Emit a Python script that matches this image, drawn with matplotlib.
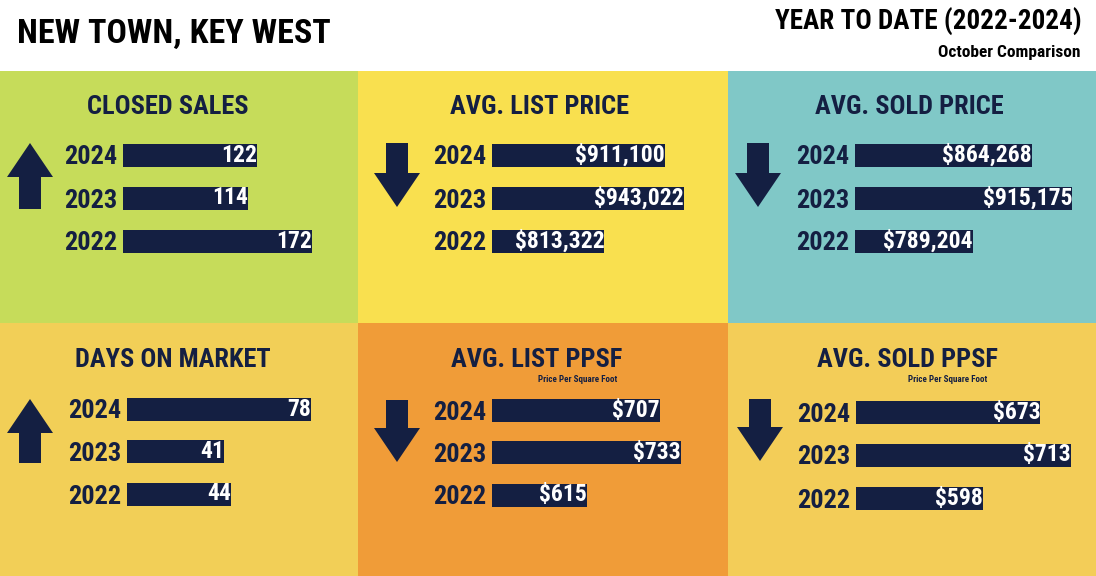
import matplotlib
matplotlib.use("Agg")
import matplotlib.pyplot as plt
from matplotlib import font_manager as fm
from matplotlib.patches import Rectangle, FancyArrow

# ---------------- data ----------------
years = ["2024", "2023", "2022"]
closed_sales = [122, 114, 172]
avg_list_price = [911100, 943022, 813322]
avg_sold_price = [864268, 915175, 789204]
days_on_market = [78, 41, 44]
avg_list_ppsf = [707, 733, 615]
avg_sold_ppsf = [673, 713, 598]

titles = ["CLOSED SALES", "AVG. LIST PRICE", "AVG. SOLD PRICE",
          "DAYS ON MARKET", "AVG. LIST PPSF", "AVG. SOLD PPSF"]
header_left = "NEW TOWN, KEY WEST"
header_right = "YEAR TO DATE (2022-2024)"
header_sub = "October Comparison"
ppsf_note = "Price Per Square Foot"

# ---------------- fonts ----------------
def pick(names):
    for n in names:
        try:
            fm.findfont(fm.FontProperties(family=n, weight="bold"), fallback_to_default=False)
            return n
        except Exception:
            pass
    return "DejaVu Sans"

FONT = pick(["Liberation Sans Narrow", "Roboto Condensed", "DejaVu Sans"])
plt.rcParams["font.family"] = [FONT, "DejaVu Sans"]

NAVY = "#141f42"
W, H = 1096, 576
fig = plt.figure(figsize=(W / 100, H / 100), dpi=100)
fig.patch.set_facecolor("white")

bg = fig.add_axes([0, 0, 1, 1])
bg.set_xlim(0, W)
bg.set_ylim(H, 0)
bg.axis("off")

def frac(x, y, w, h):
    return [x / W, 1 - (y + h) / H, w / W, h / H]

# panel backgrounds  (x0, y0, w, h, color)
panels = [
    (0, 71, 358, 252, "#c6dc5a"),
    (358, 71, 370, 252, "#f9e04f"),
    (728, 71, 368, 252, "#80c8c7"),
    (0, 323, 358, 253, "#f2cf57"),
    (358, 323, 370, 253, "#f09c38"),
    (728, 323, 368, 253, "#f3cd58"),
]
for (x0, y0, w, h, c) in panels:
    bg.add_patch(Rectangle((x0, y0), w, h, facecolor=c, edgecolor="none"))

# header
bg.text(17, 34, header_left, fontsize=24.5, fontweight="bold", color="black",
        ha="left", va="center")
bg.text(1082, 22, header_right, fontsize=19.5, fontweight="bold", color="black",
        ha="right", va="center")
bg.text(1080, 53, header_sub, fontsize=12.5, fontweight="bold", color="black",
        ha="right", va="center")

series = [closed_sales, avg_list_price, avg_sold_price,
          days_on_market, avg_list_ppsf, avg_sold_ppsf]
fmts = [lambda v: f"{v}", lambda v: f"${v:,}", lambda v: f"${v:,}",
        lambda v: f"{v}", lambda v: f"${v}", lambda v: f"${v}"]

# layout per panel: title center (x, y), arrow center x, arrow top/bottom,
# bar start px, first bar center y, row spacing, axis baseline, px per unit
layout = [
    dict(tx=168, ty=107, ax_=30, atop=143, abot=209, bx=123, by=155, sp=43, base=0, ppu=1.1),
    dict(tx=539, ty=107, ax_=397, atop=143, abot=207, bx=492, by=155, sp=43, base=630500, ppu=0.615e-3),
    dict(tx=909, ty=107, ax_=758, atop=143, abot=207, bx=855, by=155, sp=43, base=640000, ppu=0.79e-3),
    dict(tx=173, ty=360, ax_=30, atop=399, abot=463, bx=127, by=409, sp=42.5, base=0, ppu=2.36),
    dict(tx=537, ty=360, ax_=397, atop=400, abot=462, bx=492, by=410, sp=42.5, base=495, ppu=0.793),
    dict(tx=907, ty=360, ax_=760, atop=399, abot=461, bx=856, by=412, sp=43, base=432, ppu=0.765),
]

AX_W = 240
for i, (vals, lay, title, fmt) in enumerate(zip(series, layout, titles, fmts)):
    bg.text(lay["tx"], lay["ty"], title, fontsize=19, fontweight="bold", color=NAVY,
            ha="center", va="center")
    if i in (4, 5):
        bg.text(lay["tx"] + 80, lay["ty"] + 20, ppsf_note, fontsize=6.5,
                fontweight="bold", color=NAVY, ha="right", va="center")
    # arrow: direction from 2024 vs 2023
    up = vals[0] > vals[1]
    if up:
        bg.add_patch(FancyArrow(lay["ax_"], lay["abot"], 0, -(lay["abot"] - lay["atop"]),
                                width=22, head_width=46, head_length=34,
                                length_includes_head=True, color=NAVY, lw=0))
    else:
        bg.add_patch(FancyArrow(lay["ax_"], lay["atop"], 0, (lay["abot"] - lay["atop"]),
                                width=22, head_width=46, head_length=34,
                                length_includes_head=True, color=NAVY, lw=0))
    # bar axes
    sp = lay["sp"]
    top = lay["by"] - sp / 2
    ax = fig.add_axes(frac(lay["bx"], top, AX_W, 3 * sp))
    ax.patch.set_alpha(0)
    pos = list(range(len(years)))
    ax.barh(pos, vals, height=23 / sp, color=NAVY, left=0)
    ax.set_xlim(lay["base"], lay["base"] + AX_W / lay["ppu"])
    ax.set_ylim(len(years) - 0.5, -0.5)
    ax.set_yticks(pos)
    ax.set_yticklabels(years, fontsize=19, fontweight="bold", color=NAVY)
    ax.tick_params(axis="y", length=0, pad=4)
    ax.set_xticks([])
    for s in ax.spines.values():
        s.set_visible(False)
    for p, v in zip(pos, vals):
        ax.annotate(fmt(v), (v, p), xytext=(0, 0), textcoords="offset points",
                    ha="right", va="center", fontsize=17, fontweight="bold",
                    color="white")

fig.savefig("out.png", dpi=100)
